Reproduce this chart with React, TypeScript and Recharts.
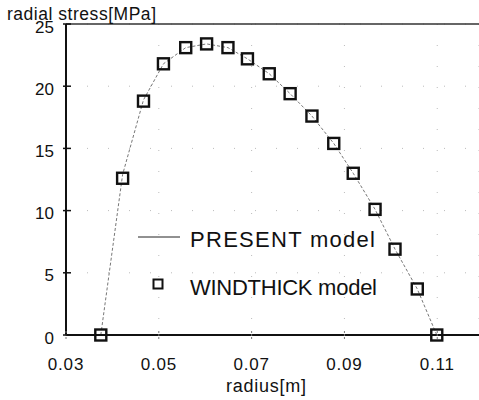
import React from "react";
import {
  ComposedChart,
  Line,
  Scatter,
  XAxis,
  YAxis,
  CartesianGrid,
  ReferenceLine,
  Label,
} from "recharts";

// ---- data ----
const windRadius = [
  0.0375, 0.0422, 0.0467, 0.051, 0.0558, 0.0603, 0.0649, 0.0691, 0.0738,
  0.0783, 0.083, 0.0877, 0.0919, 0.0966, 0.1009, 0.1057, 0.1099,
];
const windStress = [
  0, 12.6, 18.8, 21.8, 23.1, 23.4, 23.1, 22.2, 21.0, 19.4, 17.6, 15.4, 13.0,
  10.1, 6.9, 3.7, 0,
];
const presentRadius = [
  0.0375, 0.0422, 0.0467, 0.051, 0.0558, 0.0603, 0.0649, 0.0691, 0.0738,
  0.0783, 0.083, 0.0877, 0.0919, 0.0966, 0.1009, 0.1057, 0.1099,
];
const presentStress = [
  0, 12.9, 18.9, 21.8, 23.1, 23.4, 23.1, 22.2, 21.0, 19.4, 17.6, 15.4, 13.0,
  10.1, 6.9, 3.7, 0,
];
const xTicks = [0.03, 0.05, 0.07, 0.09, 0.11];
const yTicks = [0, 5, 10, 15, 20, 25];
const seriesNames = ["PRESENT model", "WINDTHICK model"];

const windData = windRadius.map((r, i) => ({ r, s: windStress[i] }));
const presentData = presentRadius.map((r, i) => ({ r, p: presentStress[i] }));

const FONT = "'Liberation Sans', Arial, Helvetica, sans-serif";

const XTick = (props: any) => {
  const { x, y, payload } = props;
  return (
    <g>
      <line x1={x} x2={x} y1={y - 4} y2={y + 4} stroke="#777" strokeWidth={1} strokeDasharray="2 1" />
      <text
        x={x}
        y={y + 35}
        textAnchor="middle"
        fontSize={17}
        fontFamily={FONT}
        fill="#111"
        letterSpacing={0.8}
      >
        {payload.value.toFixed(2)}
      </text>
    </g>
  );
};

const YTick = (props: any) => {
  const { x, y, payload } = props;
  return (
    <g>
      <line x1={x - 3} x2={x + 5} y1={y} y2={y} stroke="#111" strokeWidth={1.5} />
      <text
        x={x - 12}
        y={y + 8.5}
        textAnchor="end"
        fontSize={17}
        fontFamily={FONT}
        fill="#111"
      >
        {payload.value}
      </text>
    </g>
  );
};

const SquareShape = (props: any) => {
  const { cx, cy } = props;
  const s = 11;
  return (
    <rect
      x={cx - s / 2}
      y={cy - s / 2}
      width={s}
      height={s}
      fill="none"
      stroke="#111"
      strokeWidth={2.4}
    />
  );
};

const LegendBox = () => (
  <svg
    width={260}
    height={90}
    style={{ position: "absolute", left: 130, top: 220, display: "block" }}
  >
    <line x1={8} x2={50} y1={17} y2={17} stroke="#222" strokeWidth={1} />
    <text
      x={60}
      y={27}
      fontSize={22}
      fontFamily={FONT}
      fill="#111"
      textLength={185}
      lengthAdjust="spacing"
    >
      {seriesNames[0]}
    </text>
    <rect x={23.5} y={59.5} width={9} height={9} fill="none" stroke="#111" strokeWidth={2} />
    <text
      x={60}
      y={75}
      fontSize={22}
      fontFamily={FONT}
      fill="#111"
      textLength={187}
      lengthAdjust="spacing"
    >
      {seriesNames[1]}
    </text>
  </svg>
);

export default function App() {
  return (
    <div style={{ position: "absolute", left: 0, top: 0, width: 479, height: 400, background: "#fff" }}>
      <ComposedChart
        width={479}
        height={400}
        margin={{ top: 24, right: 0, bottom: 35, left: 0 }}
      >
        <CartesianGrid stroke="#bbb" strokeDasharray="1 20" />
        <XAxis
          type="number"
          dataKey="r"
          domain={[0.03, 0.119]}
          ticks={xTicks}
          allowDataOverflow
          height={30}
          tickSize={0}
          tickMargin={0}
          tickLine={false}
          axisLine={{ stroke: "#111", strokeWidth: 2 }}
          tick={<XTick />}
          interval={0}
        >
          <Label
            content={() => (
              <text
                x={226}
                y={392}
                fontSize={18}
                fontFamily={FONT}
                fill="#111"
                textLength={80}
                lengthAdjust="spacing"
              >
                radius[m]
              </text>
            )}
          />
        </XAxis>
        <YAxis
          type="number"
          domain={[0, 25]}
          ticks={yTicks}
          width={66}
          tickSize={0}
          tickMargin={0}
          tickLine={false}
          axisLine={{ stroke: "#111", strokeWidth: 2 }}
          tick={<YTick />}
          interval={0}
        >
          <Label
            content={() => (
              <text
                x={7}
                y={19.5}
                fontSize={17.5}
                fontFamily={FONT}
                fill="#111"
                textLength={149}
                lengthAdjust="spacing"
              >
                radial stress[MPa]
              </text>
            )}
          />
        </YAxis>
        <ReferenceLine y={25} stroke="#333" strokeWidth={1.5} />
        <Line
          data={presentData}
          dataKey="p"
          type="linear"
          stroke="#777"
          strokeWidth={1}
          strokeDasharray="3 2"
          dot={false}
          activeDot={false}
          isAnimationActive={false}
          name={seriesNames[0]}
        />
        <Scatter
          data={windData}
          dataKey="s"
          shape={<SquareShape />}
          isAnimationActive={false}
          name={seriesNames[1]}
        />
      </ComposedChart>
      <LegendBox />
    </div>
  );
}
